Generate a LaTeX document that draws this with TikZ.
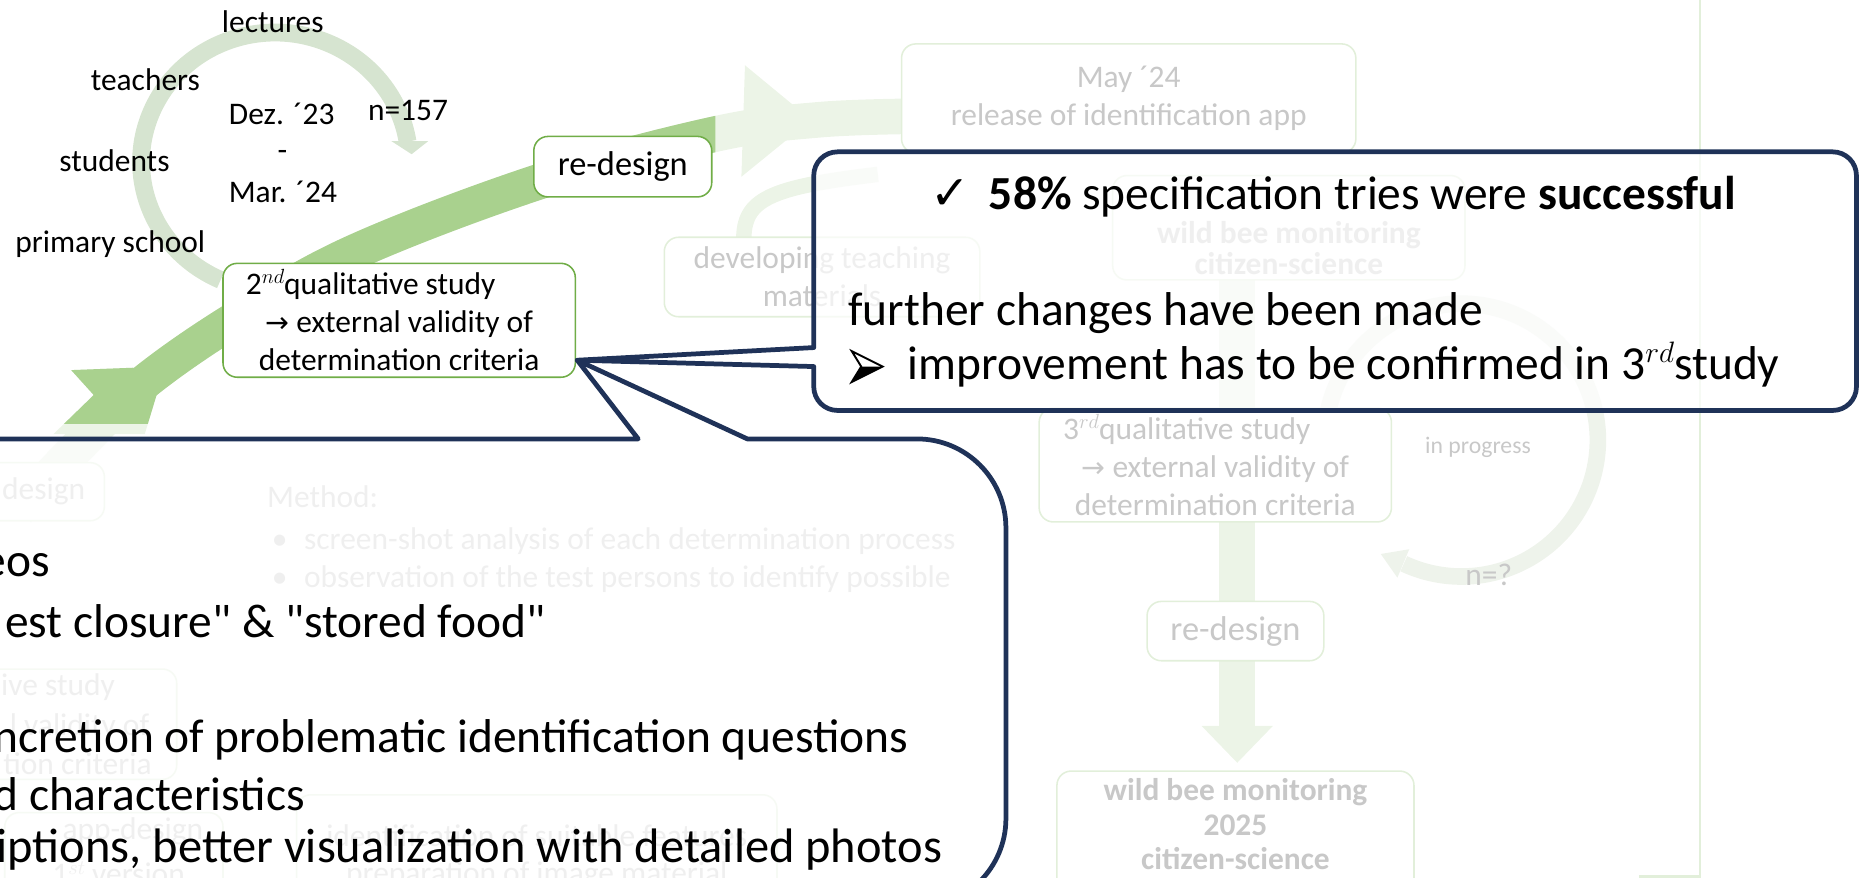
\documentclass[tikz,border=0pt]{standalone}
\usepackage{fontspec}
\setmainfont{Carlito}
\newfontfamily\symfont{DejaVu Sans}
\usetikzlibrary{calc}

\definecolor{navy}{RGB}{31,50,88}
\definecolor{leafgreen}{RGB}{169,209,142}
\definecolor{boxgreen}{RGB}{112,173,71}
\definecolor{ringgreen}{RGB}{214,228,208}
\definecolor{paleband}{RGB}{236,244,231}
\definecolor{paleline}{RGB}{226,239,218}
\definecolor{palering}{RGB}{238,243,235}
\definecolor{paletext}{RGB}{200,200,200}

\tikzset{
  lbl/.style={inner sep=0pt, font=\fontsize{26.5}{32}\selectfont},
  studybox/.style={draw=boxgreen, line width=1.3pt, rounded corners=12pt, fill=white,
    align=center, inner sep=0pt, font=\fontsize{26.5}{32}\selectfont},
  palebox/.style={draw=paleline, line width=1.3pt, rounded corners=12pt, fill=white,
    align=center, inner sep=0pt, text=paletext, font=\fontsize{26.5}{32}\selectfont},
  paletxt/.style={inner sep=0pt, text=paletext, font=\fontsize{26.5}{32}\selectfont},
  bigtxt/.style={inner sep=0pt, font=\fontsize{40}{48}\selectfont},
  callout/.style={draw=navy, line width=4pt, fill=white, fill opacity=0.72, line join=round},
}

% superscript in math italics, as the slide sets it
\newcommand{\ordsup}[3]{\raisebox{#1}{\fontsize{#2}{#2}\selectfont$#3$}}

% the thick green flow arrow, drawn once pale and once strong
\newcommand{\swoosh}[1]{%
  \draw[#1, line width=30pt] plot[smooth, tension=0.6] coordinates
    {(15,430) (70,372) (122,322) (200,268) (300,212) (458,152) (603,113) (690,101) (770,98)};
  \fill[#1] (112,310) -- (60,312) -- (79,333) -- (45,366) -- (122,366) -- (132,333) -- (146,318) -- cycle;
}

\begin{document}
\begin{tikzpicture}[x=1pt,y=-1pt]
\useasboundingbox (0,0) rectangle (1568,740);
\clip (0,0) rectangle (1568,740);

% pale background of the slide
\draw[paleline, line width=2pt] (1433,0) -- (1433,739) -- (1382,739);
\coordinate (vtop) at (1043,236);
\coordinate (vhead) at (1043,612);
\draw[paleband, line width=30pt] (vtop) -- (vhead);
\fill[paleband] ($(vhead)+(-30,0)$) -- ($(vhead)+(30,0)$) -- ($(vhead)+(0,31)$) -- cycle;
\coordinate (ringc) at (1232,371);
\draw[palering, line width=14pt] (ringc) ++(170:115pt) arc[start angle=170, end angle=-115, radius=115pt];
\fill[palering] (1188,463) -- (1178,487) -- (1164,467) -- cycle;
\draw[paleband, line width=13pt] (627,202) .. controls (627,168) and (648,158) .. (740,147);

\swoosh{paleband}
\fill[paleband] (628,55) -- (668,88) -- (668,114) -- (625,149) -- cycle;

\node[palebox, minimum width=383pt, minimum height=92pt] (may) at (951.5,83) {May ´24\\release of identification app};
\node[palebox, minimum width=266pt, minimum height=67pt] (teach) at (693,233.5) {developing teaching\\materials};
\node[palebox, minimum width=297pt, minimum height=88pt] (wbcs) at (1086.5,192) {};
\node[paletxt, align=center, font=\fontsize{26.5}{26}\selectfont\bfseries] (wbcstxt) at (1086.5,209) {wild bee monitoring\\citizen-science};
\node[palebox, minimum width=297pt, minimum height=96pt] (study3) at (1024.5,392)
  {3\ordsup{9pt}{19}{rd}qualitative study\hspace*{48pt}\\{\symfont\fontsize{24}{32}\selectfont →} external validity of\\determination criteria};
\node[palebox, minimum width=149pt, minimum height=50pt, font=\fontsize{29}{32}\selectfont] (redesign3) at (1041.5,532) {re-design};
\node[palebox, minimum width=301pt, minimum height=120pt] (bee25) at (1041.5,710) {};
\node[paletxt, align=center, font=\fontsize{26.5}{29}\selectfont\bfseries] (bee25txt) at (1041.5,695) {wild bee monitoring\\2025\\citizen-science};
\node[paletxt, font=\fontsize{20}{24}\selectfont] (prog) at (1246,377) {in progress};
\node[paletxt] (nq) at (1255,485) {n=?};

\node[palebox, minimum width=128pt, minimum height=49pt] (redesign1) at (24,414.5) {};
\node[paletxt, anchor=base east] (redesign1txt) at (72,421) {design};
\node[paletxt, anchor=base west] (method) at (225,428) {Method:};
\node[paletxt, anchor=base west] (m1) at (229,463) {•\hspace{14pt}screen-shot analysis of each determination process};
\node[paletxt, anchor=base west] (m2) at (229,495) {•\hspace{14pt}observation of the test persons to identify possible};
\node[palebox, minimum width=189pt, minimum height=93pt] (study1) at (54.5,610.5) {};
\node[paletxt, anchor=base east] (s1a) at (97,586) {ive study};
\node[paletxt, anchor=base east] (s1b) at (126,620) {l validity of};
\node[paletxt, anchor=base east] (s1c) at (128,653) {tion criteria};
\node[palebox, minimum width=184pt, minimum height=90pt] (app) at (96,730) {};
\node[paletxt, anchor=base] (apptxt) at (112,708) {app-design};
\node[paletxt, anchor=base] (appver) at (100,746) {1\ordsup{9pt}{19}{st} version};
\node[palebox, minimum width=405pt, minimum height=100pt] (feat) at (452.5,720) {};
\node[paletxt, anchor=base] (feat1) at (452.5,714) {identification of suitable features};
\node[paletxt, anchor=base] (feat2) at (452.5,745) {preparation of image material};

% the part of the slide in focus
\draw[ringgreen, line width=15pt] (186,236) arc[start angle=246, end angle=9, x radius=113pt, y radius=109pt];
\fill[ringgreen] (330,119) -- (361,119) -- (347,130) -- cycle;

\begin{scope}
  \clip (0,0) rectangle (603,357);
  \swoosh{leafgreen}
\end{scope}

\node[lbl] (lectures) at (230,18) {lectures};
\node[lbl] (teachers) at (122.5,67.5) {teachers};
\node[lbl] (students) at (96.5,135.5) {students};
\node[lbl] (school) at (93,205.5) {primary school};
\node[lbl] (dez) at (237.5,96) {Dez. ´23};
\node[lbl] (dash) at (238,131) {-};
\node[lbl] (mar) at (238.5,162) {Mar. ´24};
\node[lbl] (n157) at (344,93.5) {n=157};

\node[studybox, minimum width=297pt, minimum height=96pt] (study2) at (336.5,270)
  {2\ordsup{9pt}{19}{nd}qualitative study\hspace*{48pt}\\{\symfont\fontsize{24}{32}\selectfont →} external validity of\\determination criteria};
\node[studybox, minimum width=150pt, minimum height=51pt, font=\fontsize{29}{32}\selectfont] (redesign2) at (525,140.5) {re-design};

% callouts
\coordinate (tip) at ($(study2.south east)+(1,-15)$);
\draw[callout] (-20,765) -- (-20,370) -- (538,370) -- (tip) -- (630,370) -- (773,370)
  arc[start angle=90, end angle=0, radius=75pt] -- (848,690)
  arc[start angle=0, end angle=-90, radius=75pt] -- cycle;
\draw[callout] (686,293) -- (686,148) arc[start angle=180, end angle=90, radius=20pt]
  -- (1545,128) arc[start angle=90, end angle=0, radius=20pt]
  -- (1565,326) arc[start angle=0, end angle=-90, radius=20pt]
  -- (706,346) arc[start angle=-90, end angle=-180, radius=20pt]
  -- (686,309) -- (tip) -- cycle;

\node[bigtxt, anchor=base west] (success) at (784,177)
  {{\symfont\fontsize{40}{40}\selectfont ✓}\hspace{16pt}\textbf{58\%} specification tries were \textbf{successful}};
\node[bigtxt, anchor=base west] (changes) at (715,274) {further changes have been made};
% arrowhead bullet
\draw[black, line width=1.6pt, line join=miter] (718,296) -- (744,309) -- (718,322) -- (726,309) -- cycle;
\fill[black] (726,309) -- (744,309) -- (718,322) -- cycle;
\node[bigtxt, anchor=base west] (confirm) at (765,320) {improvement has to be confirmed in 3\ordsup{14pt}{29}{rd}study};

\node[bigtxt, anchor=base east] (c1) at (42,486) {eos};
\node[bigtxt, anchor=base east] (c2) at (460,537) {est closure\textquotedbl{} \& \textquotedbl stored food\textquotedbl};
\node[bigtxt, anchor=base east] (c3) at (766,634) {ncretion of problematic identification questions};
\node[bigtxt, anchor=base east] (c4) at (257,683) {d characteristics};
\node[bigtxt, anchor=base west, font=\fontsize{40.8}{48}\selectfont] (c5) at (-3,727) {iptions, better visualization with detailed photos};
\end{tikzpicture}
\end{document}
